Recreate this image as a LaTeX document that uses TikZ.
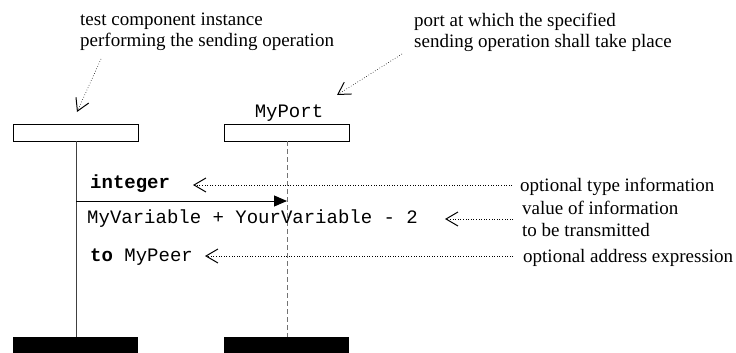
\documentclass[tikz,border=0pt]{standalone}
\usepackage{fontspec}
\setmainfont{Liberation Serif}
\setmonofont{Liberation Mono}
\usetikzlibrary{arrows.meta}
\tikzset{
  headbox/.style={draw=black, line width=1pt, fill=white, minimum width=125pt, minimum height=17pt, inner sep=0pt, outer sep=0pt},
  endbox/.style={fill=black, minimum width=125pt, minimum height=16pt, inner sep=0pt, outer sep=0pt},
  serif/.style={font=\fontsize{19}{21.5}\selectfont, inner sep=0pt, anchor=base west, align=left},
  mono/.style={font=\ttfamily\fontsize{19}{21}\selectfont, inner sep=0pt, anchor=base west},
  note/.style={dotted, line width=0.6pt, -{Straight Barb[length=12pt,width=14pt,line width=1pt]}},
  msg/.style={line width=1pt, -{Triangle[length=13pt,width=11pt]}},
}
\begin{document}
\begin{tikzpicture}[x=1pt,y=-1pt]
\useasboundingbox (0,0) rectangle (736,353);
% headers
\node[headbox] (inst) at (75.5,132.5) {};
\node[headbox] (port) at (286.5,132.5) {};
\node[mono, anchor=base] (portname) at (289,117) {MyPort};
% ends
\node[endbox] (instend) at (75.5,345) {};
\node[endbox] (portend) at (286.5,345) {};
% lifelines
\draw[line width=1pt, black!75] (inst.south -| 76,0) -- (instend.north -| 76,0);
\draw[line width=1pt, black!55, dash pattern=on 5pt off 3pt] (port.south -| 287,0) -- (portend.north -| 287,0);
% message
\coordinate (msgstart) at (76,201);
\coordinate (msgend) at (287,201);
\draw[msg] (msgstart) -- (msgend);
% message texts
\node[mono] (type) at (90,188) {\textbf{integer}};
\node[mono] (value) at (87,223) {MyVariable + YourVariable - 2};
\node[mono] (addr) at (90,261) {\textbf{to} MyPeer};
% annotations (base = baseline of last line)
\node[serif] (n1) at (80,47) {test component instance\\performing the sending operation};
\node[serif] (n2) at (414,48) {port at which the specified\\sending operation shall take place};
\node[serif] (n3) at (520,191) {optional type information};
\node[serif] (n4) at (522,236) {value of information\\to be transmitted};
\node[serif] (n5) at (523,262) {optional address expression};
% annotation connectors
\coordinate (a1s) at (101,59);
\coordinate (a1e) at (77,112);
\draw[note] (a1s) -- (a1e);
\coordinate (a2s) at (402,54);
\coordinate (a2e) at (337,95);
\draw[note] (a2s) -- (a2e);
\coordinate (t3) at (193,185);
\coordinate (s3) at (512,185);
\draw[note] (s3) -- (t3);
\coordinate (t4) at (445,219);
\coordinate (s4) at (513,219);
\draw[note] (s4) -- (t4);
\coordinate (t5) at (205,256);
\coordinate (s5) at (513,256);
\draw[note] (s5) -- (t5);
\end{tikzpicture}
\end{document}
